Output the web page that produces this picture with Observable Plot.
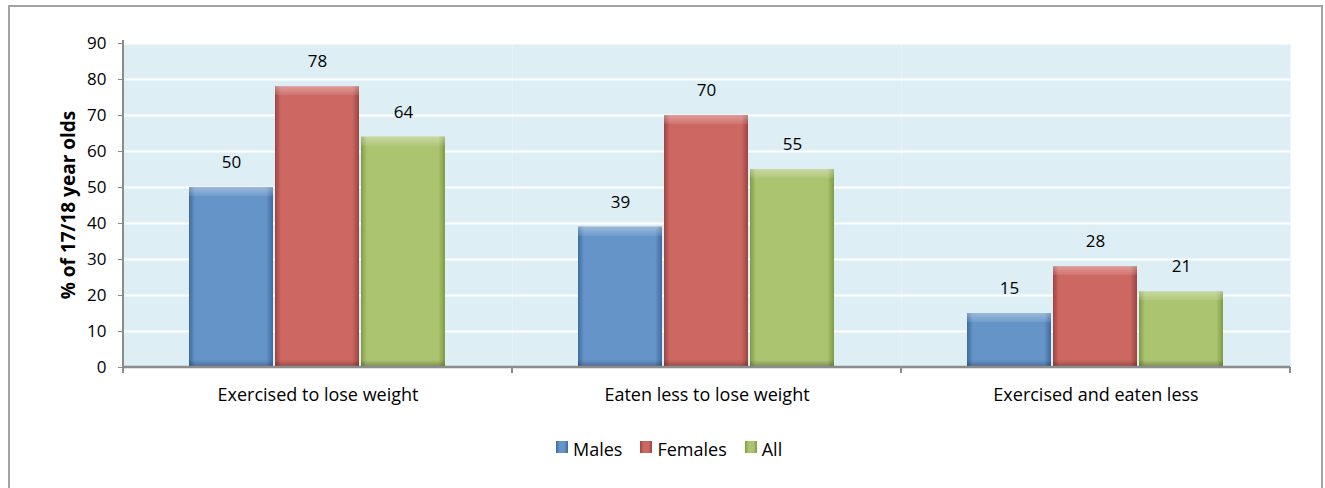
<!DOCTYPE html>
<html><head><meta charset="utf-8">
<script src="https://cdn.jsdelivr.net/npm/d3@7"></script>
<script src="https://cdn.jsdelivr.net/npm/@observablehq/plot@0.6"></script>
<style>
body{margin:0;background:#fff;font-family:"Open Sans",sans-serif;}
#wrap{position:relative;width:1325px;height:488px;overflow:hidden;background:#fff;}
#border{position:absolute;left:8px;top:5px;width:1315px;height:520px;border:2px solid #a3a3a3;box-sizing:border-box;}
#chart{position:absolute;left:0;top:0;}
#ylab{position:absolute;left:68px;top:205px;transform:translate(-50%,-50%) rotate(-90deg);font-weight:bold;font-size:19px;white-space:nowrap;color:#000;}
#legend{position:absolute;top:437px;left:556px;display:flex;align-items:center;font-size:18px;color:#000;}
#legend .item{display:flex;align-items:center;margin-right:18px;}
#legend .sw{width:12px;height:12px;margin-right:5px;margin-top:-4px;}
</style></head>
<body>
<div id="wrap">
<div id="border"></div>
<div id="chart"></div>
<div id="ylab">% of 17/18 year olds</div>
<div id="legend"></div>
</div>
<script>
const categories = ["Exercised to lose weight", "Eaten less to lose weight", "Exercised and eaten less"];
const seriesNames = ["Males", "Females", "All"];
const males = [50, 39, 15];
const females = [78, 70, 28];
const all = [64, 55, 21];
const yTicks = [0, 10, 20, 30, 40, 50, 60, 70, 80, 90];
const colors = ["#6594c8", "#cd6762", "#abc46f"];
const darkColors = ["#3f6a9c", "#9c4441", "#7f9a48"];

const seriesValues = [males, females, all];
const data = categories.flatMap((c, i) => seriesNames.map((s, j) => ({category: c, series: s, value: seriesValues[j][i]})));

const plot = Plot.plot({
  width: 1325, height: 425,
  marginLeft: 123, marginRight: 35, marginTop: 43, marginBottom: 58,
  style: {fontFamily: "'Open Sans', sans-serif", fontSize: "17px", color: "#000", background: "transparent"},
  fx: {domain: categories, padding: 0, label: null},
  x: {domain: seriesNames, paddingInner: 0.02, paddingOuter: 0.77, axis: null},
  y: {domain: [0, 90], label: null},
  color: {domain: seriesNames, range: seriesNames.map((s, i) => `url(#grad${i})`)},
  marks: [
    Plot.frame({fill: "#ddeef5", stroke: null}),
    Plot.gridY(yTicks, {stroke: "#fff", strokeOpacity: 1, strokeWidth: 2}),
    Plot.barY(data, {fx: "category", x: "series", y: "value", fill: "series"}),
    Plot.text(data, {fx: "category", x: "series", y: "value", text: d => String(d.value), dy: -25, fontSize: 17, fill: "#000"}),
    Plot.axisY(yTicks, {tickSize: 5, tickPadding: 12, stroke: "#8c8c8c", fill: "#000", label: null, fontSize: 17}),
    Plot.axisFx({anchor: "bottom", tickSize: 0, tickPadding: 21, label: null, fontSize: 18, fill: "#000"})
  ]
});

const svg = d3.select(plot);
const defs = svg.insert("defs", ":first-child");
colors.forEach((c, i) => {
  const g = defs.append("linearGradient").attr("id", `grad${i}`).attr("x1", 0).attr("x2", 1).attr("y1", 0).attr("y2", 0);
  g.append("stop").attr("offset", "0%").attr("stop-color", darkColors[i]);
  g.append("stop").attr("offset", "7%").attr("stop-color", c);
  g.append("stop").attr("offset", "92%").attr("stop-color", c);
  g.append("stop").attr("offset", "100%").attr("stop-color", darkColors[i]);
});

// bevel overlay: light top strip, dark bottom strip
svg.selectAll('g[aria-label="bar"] rect').each(function(d, k) {
  const r = d3.select(this);
  const h = +r.attr("height");
  if (!(h > 0)) return;
  const id = `bev${k}`;
  const t = Math.min(0.45, 9 / h), b = Math.min(0.45, 7 / h);
  const g = defs.append("linearGradient").attr("id", id).attr("x1", 0).attr("x2", 0).attr("y1", 0).attr("y2", 1);
  g.append("stop").attr("offset", 0).attr("stop-color", "#fff").attr("stop-opacity", 0.35);
  g.append("stop").attr("offset", t).attr("stop-color", "#fff").attr("stop-opacity", 0.08);
  g.append("stop").attr("offset", t + 0.001).attr("stop-color", "#fff").attr("stop-opacity", 0);
  g.append("stop").attr("offset", 1 - b).attr("stop-color", "#000").attr("stop-opacity", 0);
  g.append("stop").attr("offset", 1).attr("stop-color", "#000").attr("stop-opacity", 0.28);
  this.parentNode.appendChild(this.cloneNode()).setAttribute("fill", `url(#${id})`);
});

const ys = plot.scale("y"), fxs = plot.scale("fx");
const y0 = ys.apply(0), yTop = ys.apply(90);
const left = fxs.apply(categories[0]);
const right = fxs.apply(categories[categories.length - 1]) + fxs.bandwidth;
const axisG = svg.append("g").attr("stroke", "#8c8c8c");
axisG.append("line").attr("x1", left).attr("x2", left).attr("y1", yTop - 3).attr("y2", y0).attr("stroke-width", 2);
axisG.append("line").attr("x1", left).attr("x2", right).attr("y1", y0).attr("y2", y0).attr("stroke-width", 2.5);
categories.forEach(c => {
  const xb = fxs.apply(c);
  axisG.append("line").attr("x1", xb).attr("x2", xb).attr("y1", y0).attr("y2", y0 + 6).attr("stroke-width", 2);
});
axisG.append("line").attr("x1", right).attr("x2", right).attr("y1", y0).attr("y2", y0 + 6).attr("stroke-width", 2);

document.getElementById("chart").appendChild(plot);

const legend = d3.select("#legend");
seriesNames.forEach((s, i) => {
  const it = legend.append("div").attr("class", "item");
  it.append("div").attr("class", "sw").style("background", `linear-gradient(90deg, ${darkColors[i]}, ${colors[i]} 30%, ${colors[i]} 70%, ${darkColors[i]})`);
  it.append("span").text(s);
});
</script>
</body></html>
